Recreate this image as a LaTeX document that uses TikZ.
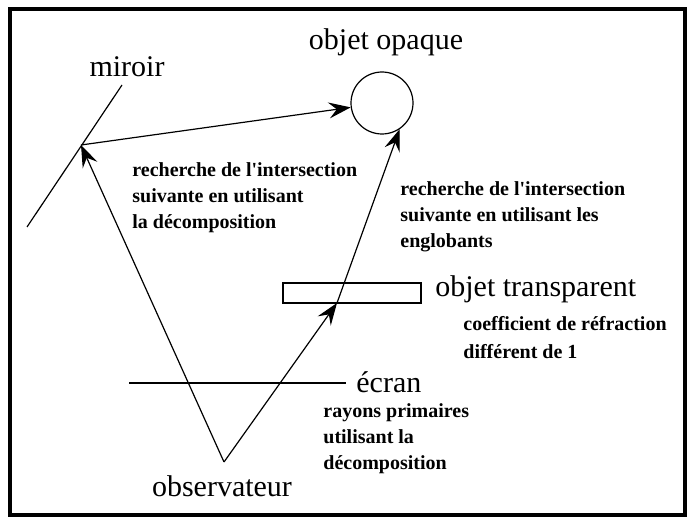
\documentclass[tikz,border=0pt]{standalone}
\usepackage{fontspec}
\setmainfont{Liberation Serif}
\usetikzlibrary{arrows.meta}

\begin{document}
\begin{tikzpicture}[x=0.5pt, y=-0.5pt,
  big/.style={inner sep=0pt, font=\fontsize{15}{18}\selectfont},
  small/.style={inner sep=0pt, align=left, font=\fontsize{10}{13}\selectfont\bfseries},
  ray/.style={line width=0.6pt, -{Stealth[length=11pt,width=8pt,inset=4pt]}}]

\useasboundingbox (0,0) rectangle (687,519);
\draw[line width=2pt] (10,9) rectangle (685,515);

% objets de la scene
\node[circle, draw, line width=0.6pt, minimum size=31pt, inner sep=0pt] (opaque) at (382,103) {};
\node[draw, line width=0.6pt, minimum width=69pt, minimum height=10pt, inner sep=0pt] (transp) at (352,293) {};
\draw[line width=0.6pt] (27,227) coordinate (mirA) -- (122,85) coordinate (mirB);
\draw[line width=0.6pt] (129,383) coordinate (ecrA) -- (346,383) coordinate (ecrB);

% etiquettes
\node[big, anchor=base] (lopaque) at (386,50) {objet opaque};
\node[big, anchor=base] (lmiroir) at (127,77) {miroir};
\node[big, anchor=base west] (ltransp) at (435,297) {objet transparent};
\node[big, anchor=base west] (lecran) at (356,393) {écran};
\node[big, anchor=base] (lobs) at (222,497) {observateur};

\node[small, anchor=north west] (ldecomp) at (132,162) {recherche de l\textquotesingle intersection\\suivante en utilisant\\la décomposition};
\node[small, anchor=north west] (lengl) at (400,181) {recherche de l\textquotesingle intersection\\suivante en utilisant les\\englobants};
\node[small, anchor=north west, font=\fontsize{10}{14}\selectfont\bfseries] (lcoef) at (463,316) {coefficient de réfraction\\différent de 1};
\node[small, anchor=north west] (lprim) at (323,403) {rayons primaires\\utilisant la\\décomposition};

% rayons
\coordinate (obs) at (224,462);
\coordinate (refl) at (81,145);
\coordinate (refr) at (337,303);
\draw[ray] (obs) -- (refl);
\draw[ray] (refl) -- (opaque);
\draw[ray] (obs) -- (refr);
\draw[ray] (refr) -- (opaque.-56);

\end{tikzpicture}
\end{document}
